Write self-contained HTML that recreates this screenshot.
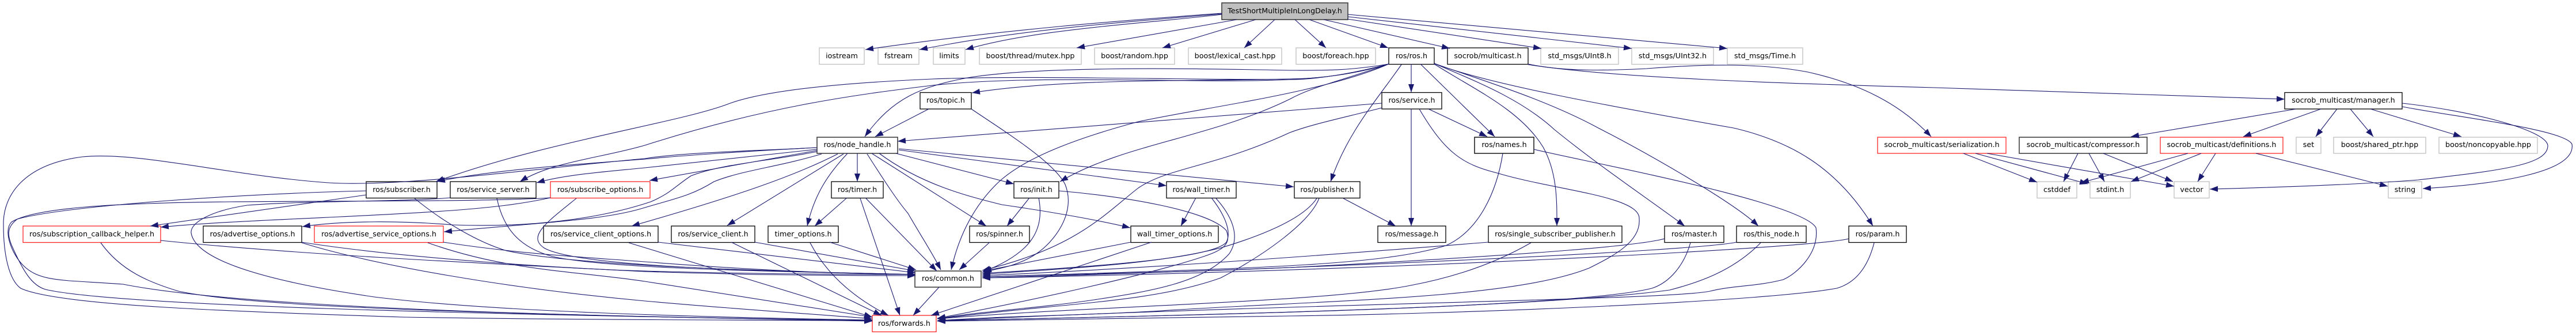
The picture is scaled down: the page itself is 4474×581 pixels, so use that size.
<!DOCTYPE html>
<html><head><meta charset="utf-8"><title>TestShortMultipleInLongDelay.h</title>
<style>
html,body{margin:0;padding:0;background:#fff}
svg{display:block}
text{font-family:"DejaVu Sans","Liberation Sans",sans-serif;font-size:12.7px;fill:#000;text-anchor:middle}
.n rect{fill:#fff;stroke:#000;stroke-width:1.3}
.n rect.g{stroke:#bfbfbf}
.n rect.r{stroke:#f22}
.n rect.d{stroke:#404040;stroke-width:1.6}
</style></head><body>
<svg xmlns="http://www.w3.org/2000/svg" width="4474" height="581" viewBox="0 0 4474 581">
<defs><marker id="a" markerUnits="userSpaceOnUse" markerWidth="15" markerHeight="11" refX="14" refY="5.5" orient="auto"><path d="M0,0.5 L14,5.5 L0,10.5Z" fill="#191970"/></marker></defs>
<g class="n">
<rect x="2122" y="5" width="219" height="29" fill="#bfbfbf" style="fill:#bfbfbf;stroke:#404040;stroke-width:1.6"/><text x="2231.5" y="23">TestShortMultipleInLongDelay.h</text>
<rect class="g" x="1423" y="83" width="78" height="28.5"/><text x="1462" y="101">iostream</text>
<rect class="g" x="1525" y="83" width="71" height="28.5"/><text x="1560.5" y="101">fstream</text>
<rect class="g" x="1621" y="83" width="55" height="28.5"/><text x="1648.5" y="101">limits</text>
<rect class="g" x="1701" y="83" width="177" height="28.5"/><text x="1789.5" y="101">boost/thread/mutex.hpp</text>
<rect class="g" x="1901" y="83" width="139" height="28.5"/><text x="1970.5" y="101">boost/random.hpp</text>
<rect class="g" x="2064" y="83" width="162" height="28.5"/><text x="2145" y="101">boost/lexical_cast.hpp</text>
<rect class="g" x="2251" y="83" width="138" height="28.5"/><text x="2320" y="101">boost/foreach.hpp</text>
<rect x="2412" y="83" width="79" height="28.5"/><text x="2451.5" y="101">ros/ros.h</text>
<rect x="2514" y="83" width="140" height="28.5"/><text x="2584" y="101">socrob/multicast.h</text>
<rect class="g" x="2676" y="83" width="135" height="28.5"/><text x="2743.5" y="101">std_msgs/UInt8.h</text>
<rect class="g" x="2834" y="83" width="142" height="28.5"/><text x="2905" y="101">std_msgs/UInt32.h</text>
<rect class="g" x="3000" y="83" width="131" height="28.5"/><text x="3065.5" y="101">std_msgs/Time.h</text>
<rect x="1598" y="160.500" width="89" height="28.5"/><text x="1642.5" y="178">ros/topic.h</text>
<rect x="2400" y="160.500" width="104" height="28.5"/><text x="2452" y="178">ros/service.h</text>
<rect x="3968" y="160.500" width="204" height="28.5"/><text x="4070" y="178">socrob_multicast/manager.h</text>
<rect class="d" x="1419" y="238" width="140" height="28"/><text x="1489" y="255">ros/node_handle.h</text>
<rect class="d" x="2561" y="238" width="103" height="28" style="stroke:#222"/><text x="2612.500" y="255">ros/names.h</text>
<rect class="r" x="3261" y="238" width="223" height="28"/><text x="3372.5" y="255">socrob_multicast/serialization.h</text>
<rect class="d" x="3507" y="238" width="222" height="28"/><text x="3618" y="255">socrob_multicast/compressor.h</text>
<rect class="r" x="3752" y="238" width="213" height="28"/><text x="3858.5" y="255">socrob_multicast/definitions.h</text>
<rect class="g" x="3988" y="238" width="43" height="28"/><text x="4009.5" y="255">set</text>
<rect class="g" x="4053" y="238" width="160" height="28"/><text x="4133" y="255">boost/shared_ptr.hpp</text>
<rect class="g" x="4236" y="238" width="171" height="28"/><text x="4321.5" y="255">boost/noncopyable.hpp</text>
<rect x="636" y="315" width="123" height="28.5"/><text x="697.5" y="333">ros/subscriber.h</text>
<rect x="782" y="315" width="149" height="28.5"/><text x="856.5" y="333">ros/service_server.h</text>
<rect class="r" x="956" y="315" width="173" height="28.5"/><text x="1042.5" y="333">ros/subscribe_options.h</text>
<rect x="1444" y="315" width="90" height="28.5"/><text x="1489" y="333">ros/timer.h</text>
<rect x="1761" y="315" width="78" height="28.5"/><text x="1800" y="333">ros/init.h</text>
<rect x="2026" y="315" width="121" height="28.5"/><text x="2086.5" y="333">ros/wall_timer.h</text>
<rect x="2248" y="315" width="114" height="28.5"/><text x="2305" y="333">ros/publisher.h</text>
<rect class="g" x="3538" y="315" width="69" height="28.5"/><text x="3572.5" y="333">cstddef</text>
<rect class="g" x="3630" y="315" width="70" height="28.5"/><text x="3665" y="333">stdint.h</text>
<rect class="g" x="3776" y="315" width="61" height="28.500"/><text x="3806.5" y="333">vector</text>
<rect class="g" x="4148" y="315" width="58" height="28.5"/><text x="4177" y="333">string</text>
<rect class="r" x="40" y="392" width="239" height="28.500"/><text x="159.5" y="410">ros/subscription_callback_helper.h</text>
<rect x="353" y="392" width="171" height="28.5"/><text x="438.5" y="410">ros/advertise_options.h</text>
<rect class="r" x="546" y="392" width="224" height="28.5"/><text x="658" y="410">ros/advertise_service_options.h</text>
<rect x="944" y="392" width="199" height="28.5"/><text x="1043.5" y="410">ros/service_client_options.h</text>
<rect x="1166" y="392" width="145" height="28.5"/><text x="1238.5" y="410">ros/service_client.h</text>
<rect x="1334" y="392" width="122" height="28.5"/><text x="1395" y="410">timer_options.h</text>
<rect x="1684" y="392" width="104" height="28.5"/><text x="1736" y="410">ros/spinner.h</text>
<rect x="1964" y="392" width="152" height="28.5"/><text x="2040" y="410">wall_timer_options.h</text>
<rect x="2393" y="392" width="118" height="28.5"/><text x="2452" y="410">ros/message.h</text>
<rect x="2585" y="392" width="232" height="28.5"/><text x="2701" y="410">ros/single_subscriber_publisher.h</text>
<rect x="2891" y="392" width="103" height="28.5"/><text x="2942.5" y="410">ros/master.h</text>
<rect x="3016" y="392" width="121" height="28.5"/><text x="3076.5" y="410">ros/this_node.h</text>
<rect x="3211" y="392" width="100" height="28.5"/><text x="3261" y="410">ros/param.h</text>
<rect class="d" x="1589" y="470" width="115" height="28"/><text x="1646.5" y="487">ros/common.h</text>
<rect class="r" x="1515" y="547" width="111" height="28.500"/><text x="1570.5" y="565">ros/forwards.h</text>
</g>
<g fill="none" stroke="#191970" stroke-width="1.1" marker-end="url(#a)">
<path d="M2122,23 C1960,35 1750,50 1503,86"/>
<path d="M2122,24 C1960,38 1780,50 1597,86"/>
<path d="M2122,25 C1980,42 1800,50 1677,86"/>
<path d="M2148,34 L1870,83"/>
<path d="M2181,34 L2019,83"/>
<path d="M2214,34 L2161,83"/>
<path d="M2249,34 L2303,83"/>
<path d="M2274,34 L2411,83"/>
<path d="M2299,34 L2518,84"/>
<path d="M2340,33 L2677,84"/>
<path d="M2341,29 L2834,84"/>
<path d="M2341,25 L3000,84"/>
<path d="M2467,111 L2596,237"/>
<path d="M2451,111 L2451,160"/>
<path d="M2434,112 C2390,175 2340,230 2311,315"/>
<path d="M2491,111 C2560,155 2640,190 2680,255 C2705,300 2704,350 2704,392"/>
<path d="M2491,110 C2560,140 2640,170 2700,225 C2780,290 2870,350 2926,392"/>
<path d="M2491,110 C2560,135 2680,170 2776,222 C2860,265 3010,350 3054,392"/>
<path d="M2491,110 C2580,145 2800,185 3011,222 C3110,245 3190,290 3253,392"/>
<path d="M2412,111 C2340,123 2300,122 2240,122 C2050,118 1800,115 1680,135 C1600,150 1550,170 1502,237"/>
<path d="M2412,111 C2350,130 2280,137 2240,137 C2100,141 1850,135 1688,161"/>
<path d="M2412,111 C2350,130 2280,137 2240,137 C2100,140 1800,130 1620,137 C1480,143 1330,155 1263,181 C1170,215 950,245 757,315"/>
<path d="M2412,111 C2340,130 2280,138 2240,138 C2100,146 1800,128 1620,148 C1480,165 1330,185 1120,252 C1040,275 960,280 903,315"/>
<path d="M2412,111 C2300,160 2100,185 1977,211 C1850,245 1770,280 1730,320 C1690,360 1665,410 1652,468"/>
<path d="M2412,111 C2330,140 2280,150 2240,172 C2100,240 1950,250 1841,315"/>
<path d="M2400,187 C2330,205 2280,215 2240,230 C2110,290 2030,290 1977,326 C1920,370 1870,430 1706,469"/>
<path d="M2400,179 L1559,245"/>
<path d="M2451,189 L2451,392"/>
<path d="M2481,189 L2583,237"/>
<path d="M2465,189 C2510,265 2540,285 2600,300 C2700,330 2850,340 2847,380 C2850,420 2800,445 2760,465 C2620,520 2300,520 2000,540 C1850,548 1750,548 1628,556"/>
<path d="M2610,266 C2600,330 2570,400 2511,426 C2400,460 2200,465 1706,480"/>
<path d="M2664,259 C2750,280 3130,350 3154,395 C3160,440 3120,475 3097,485 C3050,497 3010,495 2970,505 C2900,520 2300,525 1628,556"/>
<path d="M2287,344 C2260,385 2170,415 2120,430 C2000,460 1850,465 1706,476"/>
<path d="M2291,344 C2275,385 2200,440 2120,482 C2000,525 1850,525 1628,553"/>
<path d="M2333,344 L2424,392"/>
<path d="M2585,420 C2300,443 2000,465 1706,478"/>
<path d="M2659,421 C2600,455 2530,480 2450,495 C2300,525 1900,530 1628,553"/>
<path d="M2891,414 C2850,425 2700,440 2240,464 C2060,472 1900,475 1706,480"/>
<path d="M2936,421 C2925,460 2900,490 2869,500 C2750,530 2200,545 1628,556"/>
<path d="M3016,420 C2950,435 2300,465 1706,482"/>
<path d="M3058,421 C3010,470 2950,490 2900,503 C2700,530 2200,545 1628,556"/>
<path d="M3211,414 C3150,430 2400,470 1706,482"/>
<path d="M3255,421 C3245,460 3225,490 3190,500 C3050,525 2500,545 2240,548 C2000,552 1800,555 1628,557"/>
<path d="M2654,111 C2720,125 2800,122 2860,119 C2950,112 3050,108 3140,125 C3230,145 3300,180 3354,237"/>
<path d="M2654,112 C2800,135 3100,145 3360,152 L3968,172"/>
<path d="M3988,189 L3701,237"/>
<path d="M4031,189 L3896,237"/>
<path d="M4059,189 L4022,237"/>
<path d="M4082,189 L4122,237"/>
<path d="M4117,189 L4275,237"/>
<path d="M4172,179 C4290,192 4421,225 4425,252 C4426,285 4350,295 4200,312 C4100,320 3950,325 3838,328"/>
<path d="M4172,185 C4280,205 4455,225 4467,250 C4475,300 4330,320 4208,327"/>
<path d="M3609,266 L3584,315"/>
<path d="M3628,266 L3655,315"/>
<path d="M3653,266 L3774,315"/>
<path d="M3800,266 L3614,317"/>
<path d="M3823,266 L3701,315"/>
<path d="M3848,266 L3817,315"/>
<path d="M3918,266 L4147,323"/>
<path d="M3410,266 L3538,316"/>
<path d="M3431,266 L3626,319"/>
<path d="M3451,266 L3776,323"/>
<path d="M1489,266 L1489,315"/>
<path d="M1472,266 C1440,300 1415,335 1402,392"/>
<path d="M1465,267 L1263,391"/>
<path d="M1455,267 C1380,305 1280,340 1097,392"/>
<path d="M1427,267 C1350,290 1290,295 1240,315 C1200,340 1170,345 1120,360 C1050,382 950,385 771,402"/>
<path d="M1419,263 C1330,280 1250,285 1200,305 C1170,325 1165,335 1130,350 C1040,380 920,395 786,390 C700,383 600,382 525,393"/>
<path d="M1419,261 L1128,313"/>
<path d="M636,338 L261,392"/>
<path d="M956,343 C900,355 850,360 786,365 C600,378 400,382 279,394"/>
<path d="M1419,259 L1120,291 C1050,298 980,303 932,317"/>
<path d="M1419,256 C1300,262 1180,270 1120,276 C1000,285 850,295 759,315"/>
<path d="M1419,256 C1300,262 1180,265 1120,275 C950,290 700,325 571,317 C400,305 240,262 143,272 C40,285 5,340 6,390 C6,440 15,485 36,500 C100,530 400,540 700,550 C1000,555 1300,555 1515,556"/>
<path d="M1506,267 C1540,320 1560,350 1577,370 C1600,410 1620,440 1634,468"/>
<path d="M1514,266 L1713,392"/>
<path d="M1527,266 C1600,320 1680,340 1740,355 C1810,365 1900,380 1963,395"/>
<path d="M1556,266 L1761,319"/>
<path d="M1561,260 L2026,322"/>
<path d="M1561,258 L2247,324"/>
<path d="M1613,189 L1520,237"/>
<path d="M1687,189 C1740,225 1830,280 1850,320 C1870,370 1830,420 1800,440 C1770,460 1740,465 1706,472"/>
<path d="M1788,343 L1749,392"/>
<path d="M1804,343 C1815,400 1790,440 1706,472"/>
<path d="M1839,331 C1950,340 2100,365 2130,400 C2140,425 2120,435 2090,445 C2000,475 1800,520 1628,552"/>
<path d="M2077,343 L2051,392"/>
<path d="M2104,343 C2125,370 2140,400 2130,420 C2110,445 1950,460 1706,474"/>
<path d="M2111,343 C2140,375 2155,410 2135,440 C2090,490 2000,505 1900,520 C1800,535 1700,540 1628,553"/>
<path d="M1471,343 L1415,392"/>
<path d="M1503,343 L1627,470"/>
<path d="M1494,344 L1563,547"/>
<path d="M1441,420 L1591,468"/>
<path d="M1407,421 C1430,465 1470,510 1543,547"/>
<path d="M1719,420 L1666,468"/>
<path d="M1964,420 L1708,470"/>
<path d="M2000,420 L1617,547"/>
<path d="M1631,498 L1586,547"/>
<path d="M1311,420 L1590,470"/>
<path d="M1270,420 L1531,547"/>
<path d="M1143,420 L1590,473"/>
<path d="M1092,421 L1515,550"/>
<path d="M279,417 C500,440 800,455 1120,471 C1300,477 1450,478 1590,478"/>
<path d="M175,421 C210,470 260,490 310,505 C450,535 900,545 1515,557"/>
<path d="M524,420 C700,448 1000,467 1120,470 C1300,475 1450,476 1590,476"/>
<path d="M524,421 C650,460 880,500 1120,522 C1300,538 1420,545 1515,553"/>
<path d="M770,420 C900,440 1000,445 1120,454 C1300,468 1450,475 1590,476"/>
<path d="M743,421 C880,470 1000,470 1120,488 L1515,550"/>
<path d="M636,331 C450,335 120,355 30,380 C10,395 14,410 20,425 C40,470 55,495 79,502 C200,530 800,545 1515,556"/>
<path d="M720,344 C770,385 830,420 880,435 C1000,460 1300,470 1590,476"/>
<path d="M863,344 C875,400 905,430 960,445 C1050,465 1300,470 1590,476"/>
<path d="M782,343 C700,350 530,348 429,356 C370,365 330,385 332,404 C340,455 480,490 650,515 C850,540 1200,550 1515,555"/>
<path d="M1001,344 C950,385 915,410 945,430 C1000,462 1300,470 1590,476"/>
<path d="M956,343 C850,350 600,348 400,350 C200,352 60,360 20,385 C5,400 20,440 40,460 C70,490 110,485 214,493 C400,530 900,548 1515,556"/>
</g>
</svg>
</body></html>
